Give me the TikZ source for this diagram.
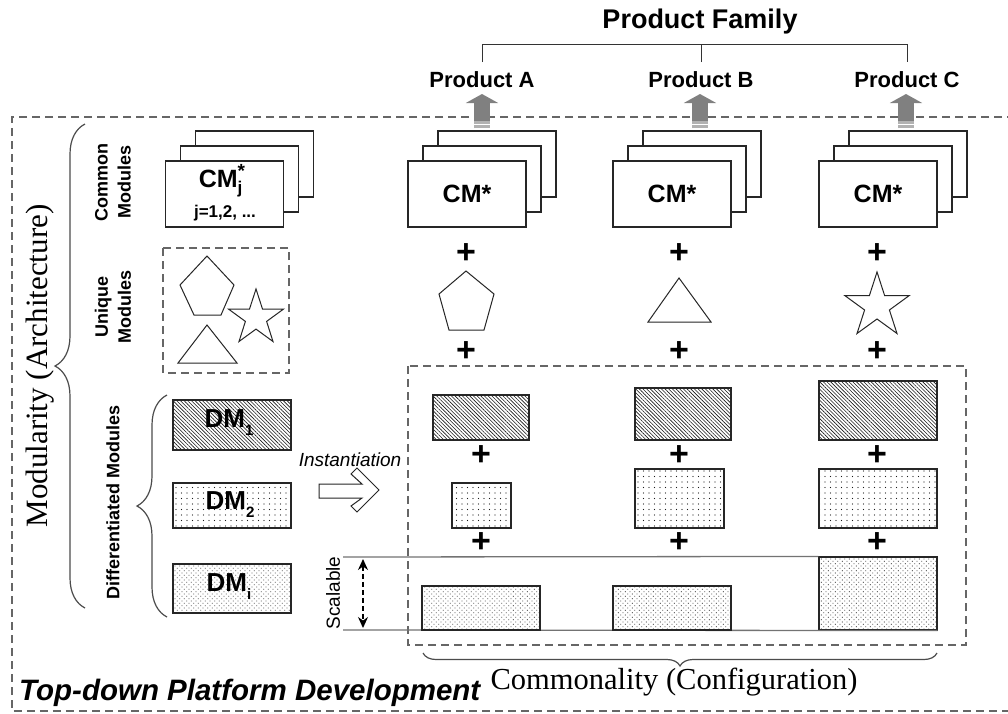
\documentclass[tikz,border=0pt]{standalone}
\usepackage{fontspec}
\setmainfont{Liberation Serif}
\setsansfont{Liberation Sans}
\usetikzlibrary{patterns,patterns.meta,decorations.pathreplacing,arrows.meta}
\newcommand{\fsz}[2]{\fontsize{#1}{#2}\selectfont}
\begin{document}
\begin{tikzpicture}[x=1pt,y=-1pt,
  lbl/.style={font=\sffamily\bfseries\fsz{22}{26}, inner sep=2pt},
  stackbox/.style={draw=black!85, line width=1.1pt, fill=white, minimum width=118pt, minimum height=66pt, inner sep=0pt, font=\sffamily\bfseries\fsz{25}{28}},
  modbox/.style={draw=black!85, line width=1.1pt, inner sep=0pt, pattern color=black!90},
  hatchbox/.style={modbox, pattern={Lines[angle=-45,distance=2.6pt,line width=0.6pt]}},
  sparsebox/.style={modbox, pattern={Dots[radius=0.6pt,distance=5.5pt]}},
  densebox/.style={modbox, pattern={Dots[radius=0.55pt,distance=3.3pt,angle=45]}},
  dmtext/.style={font=\sffamily\bfseries\fsz{26}{28}, inner sep=0pt},
  dsh/.style={draw=black!60, line width=1.4pt, dash pattern=on 8pt off 5pt},
  plussign/.style={font=\sffamily\bfseries\fsz{34}{34}, inner sep=0pt},
  shp/.style={draw=black!85, line width=1pt, line join=miter},
  garrow/.style={line width=16pt, draw=black!50, -{Triangle[width=32pt,length=9pt]}},
  brc/.style={draw=black!70, line width=1.2pt, decorate, decoration={brace, amplitude=#1}},
  thinl/.style={draw=black!80, line width=1pt},
  gline/.style={draw=black!55, line width=1.3pt},
  vlab/.style={rotate=90, align=center, font=\sffamily\bfseries\fsz{18}{23}, inner sep=0pt}
]
\useasboundingbox (0,0) rectangle (1008,713);
\fill[white] (0,0) rectangle (1008,713);

% outer dashed frame
\draw[dsh] (1015,117) -- (12,117) -- (12,711) -- (1015,711);

% product family
\node[font=\sffamily\bfseries\fsz{27}{30}, inner sep=0pt] (fam) at (700,22) {Product Family};
\node[lbl] (pA) at (482,80) {Product A};
\node[lbl] (pB) at (701,80) {Product B};
\node[lbl] (pC) at (907,80) {Product C};
\coordinate (bar) at (700,44);
\coordinate (ytop) at (0,62);
\draw[thinl] (pA.north |- ytop) -- (pA.north |- bar) -- (pC.north |- bar) -- (pC.north |- ytop);
\draw[thinl] (pB.north |- ytop) -- (pB.north |- bar);

% left labels
\node[rotate=90, font=\rmfamily\fsz{31}{33}, inner sep=0pt] (modu) at (40,366) {Modularity (Architecture)};
\draw[brc=30] (85,608) -- (85,124);
\node[vlab] (lcm) at (113,182) {Common\\Modules};
\node[vlab] (lum) at (113,307) {Unique\\Modules};
\node[vlab] (ldm) at (113,502) {Differentiated Modules};
\draw[brc=30] (167,617) -- (167,395);

% CM stacks
\node[stackbox] (sL3) at (254.5,164) {};
\node[stackbox] (sL2) at (239.5,179) {};
\node[stackbox] (sL1) at (224.5,194) {};
\node[font=\sffamily\bfseries\fsz{25}{28}, inner sep=0pt] (cmj) at (222,181) {CM\rlap{\raisebox{-6pt}{\fsz{17}{17}j}}\raisebox{10pt}{\fsz{19}{19}*}};
\node[font=\sffamily\bfseries\fsz{17}{19}, inner sep=0pt] (jlab) at (225,213) {j=1,2, ...};

\node[stackbox] (sA3) at (497,164) {};
\node[stackbox] (sA2) at (482,179) {};
\node[stackbox] (sA1) at (467,194) {CM*};
\node[stackbox] (sB3) at (702,164) {};
\node[stackbox] (sB2) at (687,179) {};
\node[stackbox] (sB1) at (672,194) {CM*};
\node[stackbox] (sC3) at (908,164) {};
\node[stackbox] (sC2) at (893,179) {};
\node[stackbox] (sC1) at (878,194) {CM*};

% gray arrows to products
\coordinate (gA) at (482,128); \coordinate (gB) at (700,128); \coordinate (gC) at (906,128);
\coordinate (tipy) at (0,94);
\draw[garrow] (gA) -- (gA |- tipy);
\draw[garrow] (gB) -- (gB |- tipy);
\draw[garrow] (gC) -- (gC |- tipy);
\foreach \xx in {482,700,906}{
  \fill[black!30] (\xx-8,121) rectangle (\xx+8,128);
  \draw[white, line width=0.8pt] (\xx-8,124) -- (\xx+8,124);
}

% unique modules box
\draw[dsh] (163,248) rectangle (289,373);
\draw[shp] (207,256) -- (234,285) -- (221,315) -- (194,315) -- (180,285) -- cycle;
\draw[shp] (256,289) -- (262.5,309) -- (283.6,309) -- (266.6,321.4) -- (273,341.5) -- (256,329.1) -- (239,341.5) -- (245.4,321.4) -- (228.4,309) -- (249.5,309) -- cycle;
\draw[shp] (207,325) -- (237,363) -- (178,363) -- cycle;

% plus signs
\foreach \xx/\yy [count=\i] in {466/254,679/254,877/254,466/352,679/352,877/352,481/456,679/456,877/456,481/543,679/543,877/543}{
  \node[plussign] (plus\i) at (\xx,\yy) {+};
}

% unique modules per product
\draw[shp] (466,271) -- (494,294) -- (484,330) -- (449,330) -- (439,294) -- cycle;
\draw[shp] (679,278) -- (711,322) -- (648,322) -- cycle;
\draw[shp] (877,272) -- (884.6,295.5) -- (909.3,295.5) -- (889.4,310) -- (897,333.5) -- (877,319) -- (857,333.5) -- (864.6,310) -- (844.7,295.5) -- (869.4,295.5) -- cycle;

% differentiated modules (left)
\node[hatchbox, minimum width=118pt, minimum height=50pt] (dm1) at (232,425) {};
\node[dmtext] (dm1t) at (229,423) {DM\raisebox{-8pt}{\fsz{15}{15}1}};
\node[sparsebox, minimum width=118pt, minimum height=45pt] (dm2) at (232,505.5) {};
\node[dmtext] (dm2t) at (230,505) {DM\raisebox{-8pt}{\fsz{15}{15}2}};
\node[densebox, minimum width=118pt, minimum height=49pt] (dmi) at (232,588.5) {};
\node[dmtext] (dmit) at (229,587) {DM\raisebox{-8pt}{\fsz{15}{15}i}};

% instantiation
\node[font=\sffamily\itshape\fsz{19}{22}, inner sep=0pt] (inst) at (350,460) {Instantiation};
\draw[shp, line width=1pt, fill=white] (319,484) -- (362,484) -- (351,474) -- (357,468) -- (379,490) -- (357,512) -- (351,506) -- (362,498) -- (319,498) -- cycle;

% right dashed box
\draw[dsh] (408,366) rectangle (966,645);

% scalable lines
\coordinate (sTop) at (343,557);
\coordinate (sBot) at (343,630);
\node[densebox, minimum width=118pt, minimum height=73pt] (r3C) at (878,593.5) {};
\draw[gline] (sTop) -- (r3C.north west);
\draw[gline] (sBot) -- (r3C.south east);
\coordinate (scT) at (363,559);
\coordinate (scB) at (363,628);
\draw[draw=black, line width=1.3pt, dash pattern=on 5pt off 3pt, {Stealth[length=11pt,width=10pt]}-{Stealth[length=11pt,width=10pt]}] (scT) -- (scB);
\node[rotate=90, font=\sffamily\fsz{19}{22}, inner sep=0pt] (scal) at (333,593) {Scalable};

% product modules
\node[hatchbox, minimum width=96pt, minimum height=45pt] (r1A) at (481,417.5) {};
\node[hatchbox, minimum width=96pt, minimum height=52pt] (r1B) at (683,414) {};
\node[hatchbox, minimum width=118pt, minimum height=59pt] (r1C) at (878,410.5) {};
\node[sparsebox, minimum width=59pt, minimum height=45pt] (r2A) at (481.5,505.5) {};
\node[sparsebox, minimum width=89pt, minimum height=59pt] (r2B) at (679.5,498.5) {};
\node[sparsebox, minimum width=118pt, minimum height=59pt] (r2C) at (878,498.5) {};
\node[densebox, minimum width=118pt, minimum height=44pt] (r3A) at (481,608) {};
\node[densebox, minimum width=118pt, minimum height=44pt] (r3B) at (672,608) {};

% commonality brace
\draw[brc=13] (937,653) -- (423,653);
\node[font=\rmfamily\fsz{30.5}{33}, inner sep=0pt] (comm) at (674,682) {Commonality (Configuration)};

% bottom title
\node[anchor=west, font=\sffamily\bfseries\itshape\fsz{29.5}{32}, inner sep=0pt] (tdp) at (19,693) {Top-down Platform Development};
\end{tikzpicture}
\end{document}
